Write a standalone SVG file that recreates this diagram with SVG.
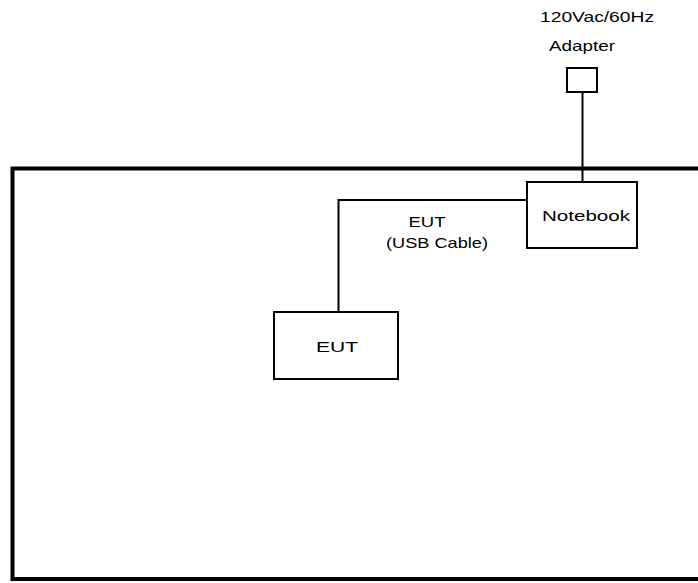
<svg xmlns="http://www.w3.org/2000/svg" width="698" height="583" viewBox="0 0 698 583">
<style>
.box{fill:#fff;stroke:#000;stroke-width:2}
.wire{fill:none;stroke:#000;stroke-width:2}
.frame{fill:none;stroke:#000;stroke-width:4}
text{font-family:"Liberation Sans",Arial,sans-serif;font-size:15px;fill:#000}
</style>
<rect width="698" height="583" fill="#fff"/>
<path class="frame" d="M702 168.5 H12.5 V579 H702"/>
<g id="connectors">
<path class="wire" d="M582.5 92 V182"/>
<path class="wire" d="M527 200 H338.5 V312"/>
</g>
<g id="adapter">
<text x="597" y="22" text-anchor="middle" textLength="114" lengthAdjust="spacingAndGlyphs">120Vac/60Hz</text>
<text x="582" y="51" text-anchor="middle" textLength="66" lengthAdjust="spacingAndGlyphs">Adapter</text>
<rect class="box" x="567" y="68" width="30" height="24"/>
</g>
<g id="notebook">
<rect class="box" x="527" y="182" width="110" height="66"/>
<text x="586" y="221" text-anchor="middle" textLength="88" lengthAdjust="spacingAndGlyphs">Notebook</text>
</g>
<g id="cable-label">
<text x="427" y="227" text-anchor="middle" textLength="37" lengthAdjust="spacingAndGlyphs">EUT</text>
<text x="437" y="248" text-anchor="middle" textLength="102" lengthAdjust="spacingAndGlyphs">(USB Cable)</text>
</g>
<g id="eut">
<rect class="box" x="274" y="312" width="124" height="67"/>
<text x="337" y="352" text-anchor="middle" textLength="42" lengthAdjust="spacingAndGlyphs">EUT</text>
</g>
</svg>
